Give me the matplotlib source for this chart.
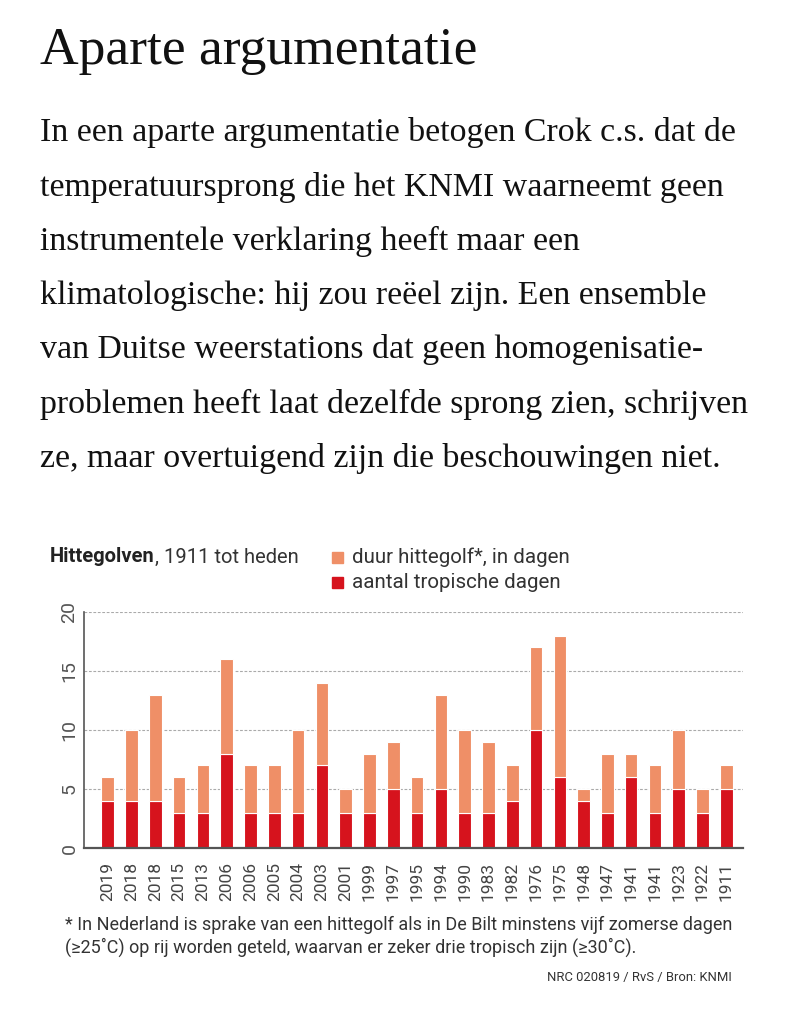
import numpy as np
import matplotlib
matplotlib.use("Agg")
import matplotlib.pyplot as plt

#%%

# Data (heat waves in De Bilt, ordered as in the original)

years = ["2019", "2018", "2018", "2015", "2013", "2006", "2006", "2005", "2004",
         "2003", "2001", "1999", "1997", "1995", "1994", "1990", "1983", "1982",
         "1976", "1975", "1948", "1947", "1941", "1941", "1923", "1922", "1911"]

# total length of the heat wave, in days
duur = [6, 10, 13, 6, 7, 16, 7, 7, 10, 14, 5, 8, 9, 6, 13, 10, 9, 7,
        17, 18, 5, 8, 8, 7, 10, 5, 7]

# number of tropical days in that heat wave
tropisch = [4, 4, 4, 3, 3, 8, 3, 3, 3, 7, 3, 3, 5, 3, 5, 3, 3, 4,
            10, 6, 4, 3, 6, 3, 5, 3, 5]

yticks = [0, 5, 10, 15, 20]

#%%

# Text of the article

titel = "Aparte argumentatie"

alinea = ["In een aparte argumentatie betogen Crok c.s. dat de",
          "temperatuursprong die het KNMI waarneemt geen",
          "instrumentele verklaring heeft maar een",
          "klimatologische: hij zou reëel zijn. Een ensemble",
          "van Duitse weerstations dat geen homogenisatie-",
          "problemen heeft laat dezelfde sprong zien, schrijven",
          "ze, maar overtuigend zijn die beschouwingen niet."]

voetnoot = ["* In Nederland is sprake van een hittegolf als in De Bilt minstens vijf zomerse dagen",
            "(≥25˚C) op rij worden geteld, waarvan er zeker drie tropisch zijn (≥30˚C)."]

bron = "NRC 020819 / RvS / Bron: KNMI"

#%%

ORANJE = "#EF8F67"
ROOD = "#D6131D"
W, H = 798, 1023

fig = plt.figure(figsize=(W / 100, H / 100), dpi=100)
fig.patch.set_facecolor("white")

def fx(px):
    return px / W

def fy(py):
    return 1 - py / H

## Title and paragraph

fig.text(fx(40), fy(51), titel, family="Liberation Serif", fontsize=38.5,
         color="#111111", va="center", ha="left")

for i, regel in enumerate(alinea):
    fig.text(fx(40), fy(133 + i * 54.2), regel, family="Liberation Serif",
             fontsize=24.4, color="#111111", va="center", ha="left")

## Chart header and legend

sans = "Roboto"
kop = fig.text(fx(50), fy(557), "Hittegolven", family=sans, fontsize=14.5,
               fontweight="bold", color="#222222", va="center", ha="left")
fig.canvas.draw()
bb = kop.get_window_extent()
fig.text(bb.x1 / W, fy(557), ", 1911 tot heden", family=sans, fontsize=14.5,
         color="#333333", va="center", ha="left")

for j, (kleur, label) in enumerate([(ORANJE, "duur hittegolf*, in dagen"),
                                    (ROOD, "aantal tropische dagen")]):
    yc = 557 + j * 25
    fig.patches.append(plt.Rectangle((fx(332), fy(yc + 5.5)), fx(11), 11 / H,
                                     transform=fig.transFigure, color=kleur))
    fig.text(fx(352), fy(yc), label, family=sans, fontsize=14.8,
             color="#333333", va="center", ha="left")

#%%

## Bar chart

ax = fig.add_axes([fx(84), fy(848), fx(743 - 84), (848 - 612) / H])

x = np.arange(len(years))
ax.bar(x, tropisch, width=0.53, color=ROOD, edgecolor="white",
       linewidth=0.8, zorder=3)
ax.bar(x, np.array(duur) - np.array(tropisch), bottom=tropisch, width=0.53,
       color=ORANJE, edgecolor="white", linewidth=0.8, zorder=3)

ax.set_xlim(-1.0, 26.7)
ax.set_ylim(0, 20)
ax.set_xticks(x)
ax.set_xticklabels(years, rotation=90, family=sans, fontsize=12.5,
                   color="#444444")
ax.set_yticks(yticks)
ax.set_yticklabels([str(t) for t in yticks], rotation=90, family=sans,
                   fontsize=14, color="#555555", va="center")
ax.tick_params(axis="both", length=0)
ax.tick_params(axis="x", pad=10)
ax.tick_params(axis="y", pad=4)

ax.yaxis.grid(True, linestyle=(0, (2.5, 1.5)), color="#aaaaaa",
              linewidth=0.8, zorder=0)
ax.set_axisbelow(True)

for s in ["top", "right"]:
    ax.spines[s].set_visible(False)
ax.spines["left"].set_color("#555555")
ax.spines["left"].set_linewidth(1.2)
ax.spines["bottom"].set_color("#555555")
ax.spines["bottom"].set_linewidth(1.6)
ax.spines["bottom"].set_zorder(4)

#%%

## Footnote and source

for i, regel in enumerate(voetnoot):
    fig.text(fx(65), fy(925 + i * 22), regel, family=sans, fontsize=13,
             color="#333333", va="center", ha="left")

fig.text(fx(732), fy(978), bron, family=sans, fontsize=9.4, color="#333333",
         va="center", ha="right")

fig.savefig("out.png", dpi=100, facecolor="white")
